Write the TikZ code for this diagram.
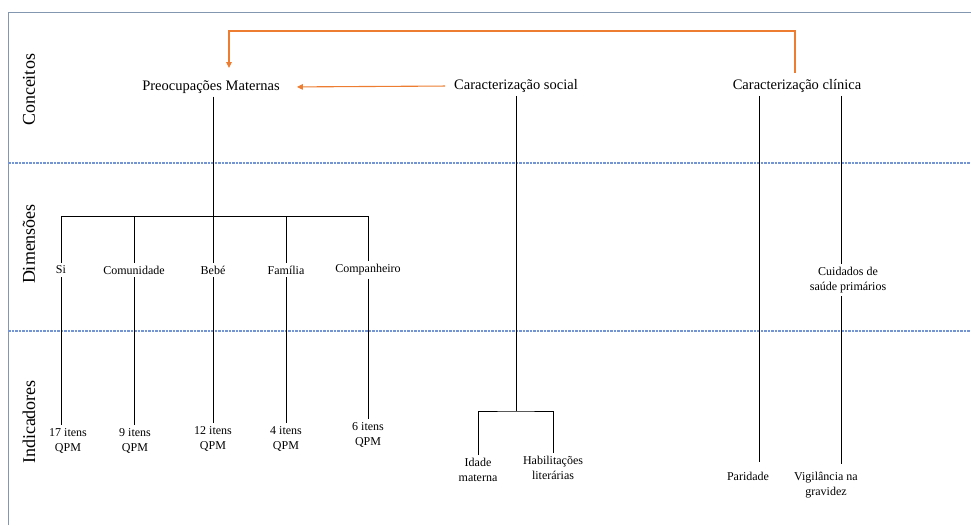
\documentclass[tikz,border=0pt]{standalone}
\usepackage{fontspec}
\setmainfont{Liberation Serif}
\usepackage{tikz}
\usetikzlibrary{arrows.meta,calc}

\definecolor{framecol}{RGB}{132,151,176}
\definecolor{sepcol}{RGB}{68,114,196}
\definecolor{linkcol}{RGB}{237,125,49}

\tikzset{
  concept/.style={inner sep=3pt, font=\fontsize{14.5}{16}\selectfont},
  item/.style={inner sep=3pt, align=center, font=\fontsize{12}{15}\selectfont},
  level/.style={rotate=90, font=\fontsize{18}{20}\selectfont},
  link/.style={draw=linkcol, line width=1.1pt, -{Triangle[length=6pt,width=5.5pt]}},
  tree/.style={draw=black, line width=0.8pt},
  band/.style={draw=sepcol!75, line width=1.1pt, dash pattern=on 2.5pt off 1pt}
}

\begin{document}
\begin{tikzpicture}[x=1pt, y=-1pt]
  \useasboundingbox (0,0) rectangle (971,525);
  % Frame and bands
  \draw[framecol, line width=1.5pt] (8.5,525) -- (8.5,12.5) -- (971,12.5);
  \draw[band] (8,163) -- (971,163);
  \draw[band] (8,331) -- (971,331);
  \node[level] (LC) at (29,90) {Conceitos};
  \node[level] (LD) at (29,244) {Dimensões};
  \node[level] (LI) at (29,422) {Indicadores};
  % Nodes
  \node[concept] (PM) at (211,87) {Preocupações Maternas};
  \node[concept] (CS) at (516,86) {Caracterização social};
  \node[concept] (CC) at (797,86) {Caracterização clínica};
  \node[item] (Si) at (61,270) {Si};
  \node[item] (Com) at (134,270) {Comunidade};
  \node[item] (Beb) at (213,270) {Bebé};
  \node[item] (Fam) at (286,270) {Família};
  \node[item] (Comp) at (368,270) {Companheiro};
  \node[item] (Q1) at (68,441) {17 itens\\QPM};
  \node[item] (Q2) at (135,441) {9 itens\\QPM};
  \node[item] (Q3) at (213,439) {12 itens\\QPM};
  \node[item] (Q4) at (286,439) {4 itens\\QPM};
  \node[item] (Q5) at (368,435) {6 itens\\QPM};
  \node[item] (Id) at (478,470) {Idade\\materna};
  \node[item] (Hab) at (553,468) {Habilitações\\literárias};
  \node[item] (Cui) at (848,280) {Cuidados de\\saúde primários};
  \node[item] (Par) at (748,476) {Paridade};
  \node[item] (Vig) at (826,485) {Vigilância na\\gravidez};
  \coordinate (dbar) at (213,216);
  \coordinate (sbar) at (516,411);
  \coordinate (pline) at (759,462);
  \coordinate (vline) at (841,464);
  \coordinate (lstart) at (795,73);
  \coordinate (ltop) at (229,31);
  \coordinate (ltip) at (229,68);
  % Edges
  \draw[tree] (PM.south -| Beb) -- (Beb.north);
  \draw[tree] (Si.north) -- (Si.north |- dbar) -- (Comp.north |- dbar) -- (Comp.north);
  \foreach \d in {Com,Fam}
    \draw[tree] (\d.north) -- (\d.north |- dbar);
  \foreach \d/\q in {Si/Q1,Com/Q2,Beb/Q3,Fam/Q4,Comp/Q5}
    \draw[tree] (\d.south) -- (\d.south |- \q.north);
  \draw[tree] (CS.south) -- (sbar);
  \draw[tree] (Id.north) |- (sbar) -| (Hab.north);
  \draw[tree] (CC.south -| pline) -- (pline);
  \draw[tree] (CC.south -| vline) -- (vline |- Cui.north);
  \draw[tree] (vline |- Cui.south) -- (vline);
  \draw[link, shorten <=6pt, shorten >=14pt] (CS.west) -- (PM.east);
  \draw[link] (lstart) |- (ltop) -- (ltip);
\end{tikzpicture}
\end{document}
